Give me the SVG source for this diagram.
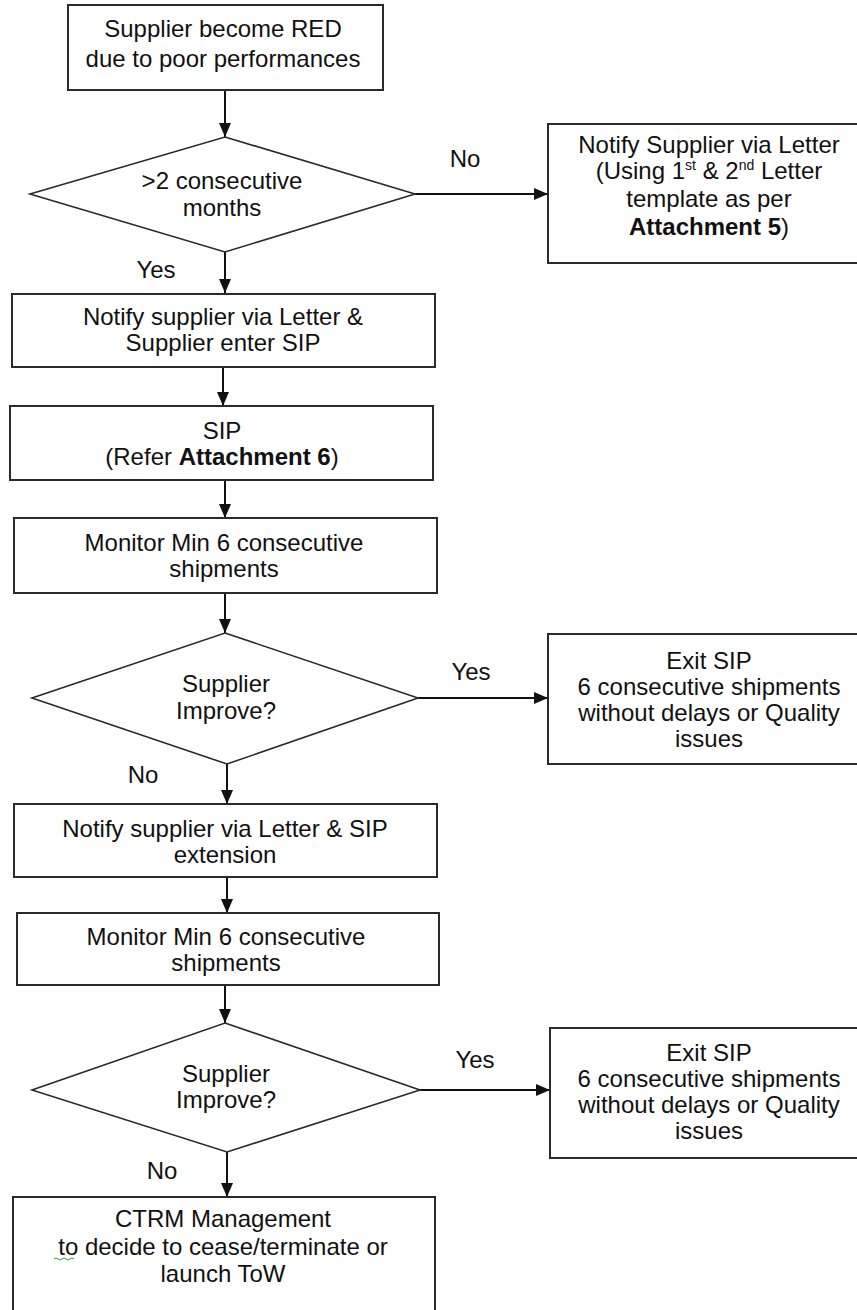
<svg xmlns="http://www.w3.org/2000/svg" width="857" height="1310" viewBox="0 0 857 1310">
<style>
.box{fill:#fff;stroke:#2a2a2a;stroke-width:2}
.dia{fill:#fff;stroke:#2a2a2a;stroke-width:1.6}
.t{font-family:"Liberation Sans",Arial,sans-serif;font-size:24px;fill:#111;text-anchor:middle}
.b{font-weight:bold}
.sup{font-size:14px}
.c{stroke:#111;stroke-width:2;fill:none;marker-end:url(#ah)}
</style>
<defs>
<marker id="ah" markerUnits="userSpaceOnUse" markerWidth="14" markerHeight="12" refX="14" refY="6" orient="auto">
<path d="M0,0 L14,6 L0,12 Z" fill="#111"/>
</marker>
</defs>
<rect width="857" height="1310" fill="#fff"/>
<g id="connectors">
<line class="c" x1="225" y1="90" x2="225" y2="137"/>
<line class="c" x1="225" y1="252" x2="225" y2="293"/>
<line class="c" x1="223" y1="367" x2="223" y2="406"/>
<line class="c" x1="225" y1="478" x2="225" y2="518"/>
<line class="c" x1="225" y1="593" x2="225" y2="633"/>
<line class="c" x1="227" y1="764" x2="227" y2="804"/>
<line class="c" x1="227" y1="877" x2="227" y2="913"/>
<line class="c" x1="225" y1="985" x2="225" y2="1023"/>
<line class="c" x1="227" y1="1152" x2="227" y2="1197"/>
<line class="c" x1="415" y1="194" x2="548" y2="194"/>
<line class="c" x1="418" y1="698" x2="548" y2="698"/>
<line class="c" x1="420" y1="1090" x2="550" y2="1090"/>
<text class="t" x="465" y="167">No</text>
<text class="t" x="156" y="278">Yes</text>
<text class="t" x="471" y="680">Yes</text>
<text class="t" x="143" y="783">No</text>
<text class="t" x="475" y="1068">Yes</text>
<text class="t" x="162" y="1179">No</text>
</g>
<g id="start">
<rect class="box" x="68" y="5" width="315" height="85"/>
<text class="t" x="223" y="37">Supplier become RED</text>
<text class="t" x="223" y="67">due to poor performances</text>
</g>
<g id="d1">
<polygon class="dia" points="225,137 415,194 225,252 30,194"/>
<text class="t" x="222" y="189">&gt;2 consecutive</text>
<text class="t" x="222" y="216">months</text>
</g>
<g id="notify1">
<rect class="box" x="548" y="124" width="330" height="139"/>
<text class="t" x="709" y="153">Notify Supplier via Letter</text>
<text class="t" x="709" y="179">(Using 1<tspan class="sup" dy="-9">st</tspan><tspan dy="9"> &amp; 2</tspan><tspan class="sup" dy="-9">nd</tspan><tspan dy="9"> Letter</tspan></text>
<text class="t" x="709" y="207">template as per</text>
<text class="t" x="709" y="235"><tspan class="b">Attachment 5</tspan>)</text>
</g>
<g id="enter">
<rect class="box" x="12" y="294" width="423" height="73"/>
<text class="t" x="223" y="325">Notify supplier via Letter &amp;</text>
<text class="t" x="223" y="351">Supplier enter SIP</text>
</g>
<g id="sip">
<rect class="box" x="10" y="406" width="423" height="74"/>
<text class="t" x="222" y="439">SIP</text>
<text class="t" x="222" y="465">(Refer <tspan class="b">Attachment 6</tspan>)</text>
</g>
<g id="monitor1">
<rect class="box" x="14" y="518" width="423" height="75"/>
<text class="t" x="224" y="551">Monitor Min 6 consecutive</text>
<text class="t" x="224" y="577">shipments</text>
</g>
<g id="d2">
<polygon class="dia" points="225,633 418,698 227,764 32,698"/>
<text class="t" x="226" y="692">Supplier</text>
<text class="t" x="226" y="719">Improve?</text>
</g>
<g id="exit1">
<rect class="box" x="548" y="634" width="330" height="130"/>
<text class="t" x="709" y="669">Exit SIP</text>
<text class="t" x="709" y="695">6 consecutive shipments</text>
<text class="t" x="709" y="721">without delays or Quality</text>
<text class="t" x="709" y="747">issues</text>
</g>
<g id="extension">
<rect class="box" x="14" y="804" width="423" height="73"/>
<text class="t" x="225" y="837">Notify supplier via Letter &amp; SIP</text>
<text class="t" x="225" y="863">extension</text>
</g>
<g id="monitor2">
<rect class="box" x="17" y="913" width="422" height="72"/>
<text class="t" x="226" y="945">Monitor Min 6 consecutive</text>
<text class="t" x="226" y="971">shipments</text>
</g>
<g id="d3">
<polygon class="dia" points="225,1023 420,1090 227,1152 32,1090"/>
<text class="t" x="226" y="1082">Supplier</text>
<text class="t" x="226" y="1108">Improve?</text>
</g>
<g id="exit2">
<rect class="box" x="550" y="1028" width="330" height="130"/>
<text class="t" x="709" y="1061">Exit SIP</text>
<text class="t" x="709" y="1087">6 consecutive shipments</text>
<text class="t" x="709" y="1113">without delays or Quality</text>
<text class="t" x="709" y="1139">issues</text>
</g>
<g id="ctrm">
<rect class="box" x="13" y="1197" width="422" height="130"/>
<text class="t" x="223" y="1227">CTRM Management</text>
<text class="t" x="223" y="1255">to decide to cease/terminate or</text>
<text class="t" x="223" y="1282">launch ToW</text>
<path d="M54,1259 q2,-2 4,0 t4,0 t4,0 t4,0 t4,0" fill="none" stroke="#3a9a3a" stroke-width="1"/>
</g>
</svg>
